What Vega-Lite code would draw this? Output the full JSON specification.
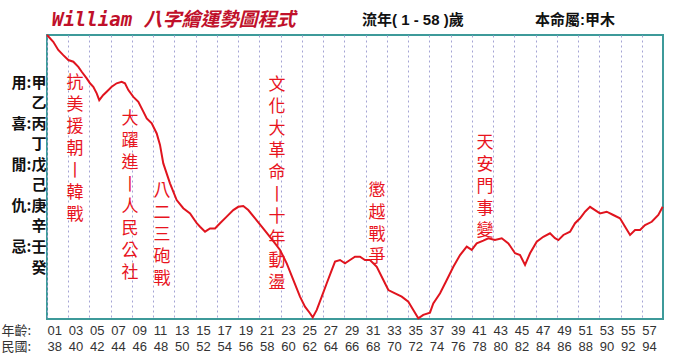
{
  "$schema": "https://vega.github.io/schema/vega-lite/v6.json",
  "width": 616,
  "height": 284,
  "autosize": "none",
  "padding": {"left": 47, "top": 35, "right": 19, "bottom": 43},
  "background": "white",
  "config": {
    "view": {"stroke": "#3d9a9a", "strokeWidth": 2},
    "axis": {"labelOverlap": false}
  },
  "datasets": {
    "curve": [
      {"age": 1.00, "luck": 12.29}, {"age": 1.59, "luck": 11.96}, {"age": 2.06, "luck": 11.56}, {"age": 2.53, "luck": 11.31},
      {"age": 3.01, "luck": 11.07}, {"age": 3.48, "luck": 10.99}, {"age": 3.95, "luck": 10.74}, {"age": 4.27, "luck": 10.50},
      {"age": 4.74, "luck": 10.18}, {"age": 5.05, "luck": 9.94}, {"age": 5.36, "luck": 9.77}, {"age": 5.68, "luck": 9.45},
      {"age": 5.92, "luck": 9.12}, {"age": 6.30, "luck": 9.37}, {"age": 6.62, "luck": 9.53}, {"age": 7.09, "luck": 9.77},
      {"age": 7.56, "luck": 9.94}, {"age": 8.03, "luck": 10.01}, {"age": 8.34, "luck": 9.94}, {"age": 8.66, "luck": 9.61},
      {"age": 9.13, "luck": 9.28}, {"age": 9.60, "luck": 9.04}, {"age": 10.07, "luck": 8.56}, {"age": 10.39, "luck": 8.23},
      {"age": 10.86, "luck": 7.99}, {"age": 11.33, "luck": 7.50}, {"age": 11.64, "luck": 6.94}, {"age": 11.95, "luck": 6.04},
      {"age": 12.58, "luck": 5.07}, {"age": 13.21, "luck": 4.26}, {"age": 13.83, "luck": 3.86}, {"age": 14.47, "luck": 3.61},
      {"age": 15.10, "luck": 3.13}, {"age": 15.41, "luck": 2.96}, {"age": 15.88, "luck": 2.72}, {"age": 16.35, "luck": 2.88},
      {"age": 16.82, "luck": 2.88}, {"age": 17.29, "luck": 3.13}, {"age": 17.92, "luck": 3.45}, {"age": 18.54, "luck": 3.77},
      {"age": 19.01, "luck": 3.93}, {"age": 19.48, "luck": 3.97}, {"age": 19.95, "luck": 3.77}, {"age": 20.59, "luck": 3.37},
      {"age": 21.22, "luck": 2.96}, {"age": 21.84, "luck": 2.56}, {"age": 22.47, "luck": 2.15}, {"age": 22.94, "luck": 1.83},
      {"age": 23.57, "luck": 1.18}, {"age": 24.19, "luck": 0.37}, {"age": 24.82, "luck": -0.44}, {"age": 25.29, "luck": -0.93},
      {"age": 25.76, "luck": -1.25}, {"age": 26.02, "luck": -1.45}, {"age": 26.40, "luck": -1.09}, {"age": 26.87, "luck": -0.44},
      {"age": 27.34, "luck": 0.21}, {"age": 27.81, "luck": 0.85}, {"age": 28.12, "luck": 1.26}, {"age": 28.59, "luck": 1.34},
      {"age": 29.06, "luck": 1.18}, {"age": 29.53, "luck": 1.34}, {"age": 30.00, "luck": 1.50}, {"age": 30.47, "luck": 1.50},
      {"age": 30.94, "luck": 1.34}, {"age": 31.41, "luck": 1.34}, {"age": 32.05, "luck": 1.01}, {"age": 32.67, "luck": 0.37},
      {"age": 33.14, "luck": -0.12}, {"age": 33.77, "luck": -0.28}, {"age": 34.40, "luck": -0.44}, {"age": 35.02, "luck": -0.69},
      {"age": 35.49, "luck": -1.09}, {"age": 35.96, "luck": -1.50}, {"age": 36.43, "luck": -1.33}, {"age": 37.06, "luck": -1.22},
      {"age": 37.37, "luck": -0.77}, {"age": 38.01, "luck": -0.28}, {"age": 38.64, "luck": 0.37}, {"age": 39.26, "luck": 1.01},
      {"age": 39.89, "luck": 1.58}, {"age": 40.52, "luck": 1.99}, {"age": 40.99, "luck": 1.83}, {"age": 41.46, "luck": 2.15},
      {"age": 42.08, "luck": 2.28}, {"age": 42.55, "luck": 2.40}, {"age": 43.18, "luck": 2.31}, {"age": 43.82, "luck": 2.40},
      {"age": 44.44, "luck": 2.15}, {"age": 45.07, "luck": 1.67}, {"age": 45.54, "luck": 1.58}, {"age": 46.01, "luck": 1.10},
      {"age": 46.48, "luck": 1.67}, {"age": 47.11, "luck": 2.23}, {"age": 47.73, "luck": 2.47}, {"age": 48.36, "luck": 2.64},
      {"age": 48.83, "luck": 2.40}, {"age": 49.15, "luck": 2.31}, {"age": 49.62, "luck": 2.56}, {"age": 50.25, "luck": 2.72},
      {"age": 50.72, "luck": 3.13}, {"age": 51.19, "luck": 3.37}, {"age": 51.66, "luck": 3.69}, {"age": 52.13, "luck": 3.93},
      {"age": 52.60, "luck": 3.77}, {"age": 53.07, "luck": 3.61}, {"age": 53.70, "luck": 3.69}, {"age": 54.32, "luck": 3.53},
      {"age": 54.95, "luck": 3.37}, {"age": 55.43, "luck": 2.96}, {"age": 55.90, "luck": 2.56}, {"age": 56.37, "luck": 2.80},
      {"age": 56.84, "luck": 2.80}, {"age": 57.31, "luck": 3.04}, {"age": 57.94, "luck": 3.20}, {"age": 58.56, "luck": 3.53},
      {"age": 58.97, "luck": 3.93}
    ],
    "events": [
      {"age": 3.64, "top": 10.34, "chars": ["抗", "美", "援", "朝", "丨", "韓", "戰"]},
      {"age": 8.82, "top": 8.59, "chars": ["大", "躍", "進", "丨", "人", "民", "公", "社"]},
      {"age": 11.83, "top": 5.09, "chars": ["八", "二", "三", "砲", "戰"]},
      {"age": 22.66, "top": 10.24, "chars": ["文", "化", "大", "革", "命", "丨", "十", "年", "動", "盪"]},
      {"age": 32.07, "top": 5.09, "chars": ["懲", "越", "戰", "爭"]},
      {"age": 42.24, "top": 7.42, "chars": ["天", "安", "門", "事", "變"]}
    ],
    "heading": [
      {"age": 30.66, "pos": 13.02, "label": "流年( 1 - 58 )歲"},
      {"age": 46.95, "pos": 13.02, "label": "本命屬:甲木"}
    ],
    "banner": [
      {"age": 1.47, "pos": 13.04, "label": "William 八字繪運勢圖程式"}
    ]
  },
  "layer": [
    {
      "data": {"name": "curve"},
      "mark": {"type": "line", "color": "#e0141e", "strokeWidth": 2},
      "encoding": {
        "x": {
          "field": "age",
          "type": "quantitative",
          "scale": {"domain": [1, 59], "nice": false, "zero": false},
          "axis": {
            "values": [1, 3, 5, 7, 9, 11, 13, 15, 17, 19, 21, 23, 25, 27, 29, 31, 33, 35, 37, 39, 41, 43, 45, 47, 49, 51, 53, 55, 57],
            "tickCount": 100,
            "labelExpr": "[(datum.value < 10 ? '0' : '') + datum.value, '' + (datum.value + 37)]",
            "labelAlign": "left",
            "labelBaseline": "top",
            "labelFlush": false,
            "labelOverlap": false,
            "labelPadding": 5,
            "ticks": false,
            "tickSize": 0,
            "domain": false,
            "grid": true,
            "gridColor": "#a4a4d4",
            "gridDash": [2, 3],
            "gridWidth": 1,
            "labelFont": "Liberation Sans Narrow, Liberation Sans",
            "labelFontSize": 13,
            "labelLineHeight": 16,
            "labelColor": "#333333",
            "title": ["年齡:", "民國:"],
            "titleX": -46,
            "titleY": 5,
            "titleAlign": "left",
            "titleBaseline": "top",
            "titleAngle": 0,
            "titleFont": "Noto Sans CJK TC",
            "titleFontSize": 13,
            "titleFontWeight": "normal",
            "titleLineHeight": 16,
            "titleColor": "#333333"
          }
        },
        "y": {
          "field": "luck",
          "type": "quantitative",
          "scale": {"domain": [-1.53, 12.29], "nice": false, "zero": false},
          "axis": {
            "values": [1, 2, 3, 4, 5, 6, 7, 8, 9, 10],
            "tickCount": 100,
            "labelExpr": "['', '癸', '忌:壬', '辛', '仇:庚', '己', '閒:戊', '丁', '喜:丙', '乙', '用:甲'][datum.value]",
            "labelFont": "Noto Sans CJK TC",
            "labelFontSize": 15,
            "labelFontWeight": "bold",
            "labelColor": "#111111",
            "labelPadding": 1,
            "labelOverlap": false,
            "ticks": false,
            "tickSize": 0,
            "domain": false,
            "grid": false,
            "title": null
          }
        }
      }
    },
    {
      "data": {"name": "events"},
      "mark": {
        "type": "text",
        "color": "#e8141e",
        "font": "Noto Sans CJK TC",
        "fontSize": 17,
        "lineHeight": 22,
        "align": "center",
        "baseline": "top"
      },
      "encoding": {
        "x": {"field": "age", "type": "quantitative"},
        "y": {"field": "top", "type": "quantitative"},
        "text": {"field": "chars"}
      }
    },
    {
      "data": {"name": "heading"},
      "mark": {
        "type": "text",
        "color": "#111111",
        "font": "Liberation Sans, Noto Sans CJK TC",
        "fontSize": 15,
        "fontWeight": "bold",
        "align": "left",
        "baseline": "middle"
      },
      "encoding": {
        "x": {"field": "age", "type": "quantitative"},
        "y": {"field": "pos", "type": "quantitative"},
        "text": {"field": "label"}
      }
    },
    {
      "data": {"name": "banner"},
      "mark": {
        "type": "text",
        "color": "#c0102a",
        "font": "DejaVu Sans Mono, Noto Sans CJK TC",
        "fontSize": 19,
        "fontStyle": "italic",
        "fontWeight": "bold",
        "align": "left",
        "baseline": "middle"
      },
      "encoding": {
        "x": {"field": "age", "type": "quantitative"},
        "y": {"field": "pos", "type": "quantitative"},
        "text": {"field": "label"}
      }
    }
  ]
}
